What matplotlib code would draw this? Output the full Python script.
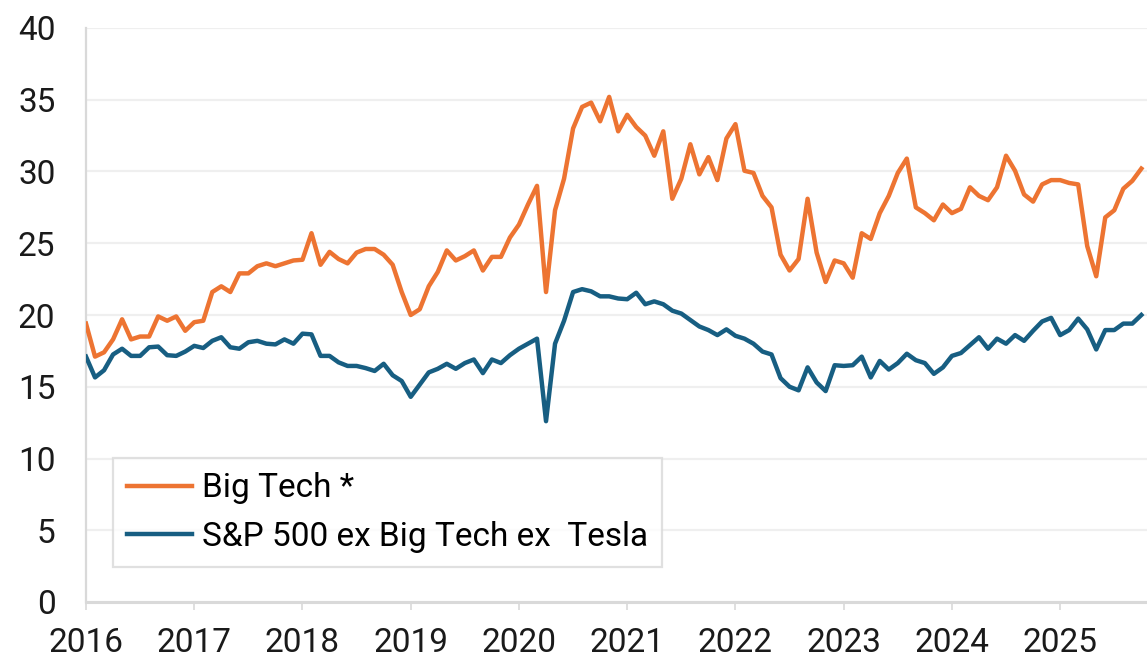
import numpy as np
import matplotlib
matplotlib.use("Agg")
import matplotlib.pyplot as plt

# ---- data (monthly, Jan 2016 .. Oct 2025) ----
year_labels = ["2016", "2017", "2018", "2019", "2020", "2021", "2022", "2023", "2024", "2025"]
series_names = ["Big Tech *", "S&P 500 ex Big Tech ex  Tesla"]

big_tech = [
    19.4, 17.1, 17.4, 18.3, 19.7, 18.3, 18.5, 18.5, 19.9, 19.6, 19.9, 18.9,
    19.5, 19.6, 21.6, 22.0, 21.6, 22.9, 22.9, 23.4, 23.6, 23.4, 23.6, 23.8,
    23.85, 25.7, 23.5, 24.4, 23.9, 23.6, 24.35, 24.6, 24.6, 24.2, 23.5, 21.6,
    20.0, 20.4, 22.0, 23.0, 24.5, 23.8, 24.1, 24.5, 23.1, 24.05, 24.05, 25.4,
    26.3, 27.7, 29.0, 21.6, 27.3, 29.5, 33.0, 34.5, 34.8, 33.5, 35.2, 32.8,
    33.95, 33.1, 32.5, 31.1, 32.8, 28.1, 29.5, 31.9, 29.8, 31.0, 29.4, 32.3,
    33.3, 30.05, 29.9, 28.3, 27.5, 24.2, 23.1, 23.9, 28.1, 24.35, 22.3, 23.8,
    23.6, 22.6, 25.7, 25.3, 27.1, 28.3, 29.9, 30.9, 27.5, 27.1, 26.6, 27.7,
    27.1, 27.4, 28.9, 28.3, 28.0, 28.9, 31.1, 30.05, 28.4, 27.9, 29.1, 29.4,
    29.4, 29.2, 29.1, 24.8, 22.7, 26.8, 27.3, 28.8, 29.35, 30.2,
]
sp500_ex = [
    17.1, 15.65, 16.15, 17.25, 17.65, 17.15, 17.15, 17.75, 17.8, 17.2, 17.15, 17.45,
    17.85, 17.7, 18.2, 18.45, 17.75, 17.65, 18.1, 18.2, 18.0, 17.95, 18.3, 18.0,
    18.7, 18.65, 17.15, 17.15, 16.7, 16.45, 16.45, 16.3, 16.1, 16.6, 15.8, 15.4,
    14.3, 15.15, 16.0, 16.25, 16.6, 16.25, 16.65, 16.9, 15.95, 16.9, 16.65, 17.2,
    17.65, 18.0, 18.35, 12.6, 18.0, 19.6, 21.6, 21.8, 21.65, 21.3, 21.3, 21.15,
    21.1, 21.55, 20.75, 20.95, 20.75, 20.3, 20.1, 19.65, 19.2, 18.95, 18.6, 19.0,
    18.55, 18.35, 18.0, 17.45, 17.25, 15.6, 15.0, 14.75, 16.35, 15.3, 14.7, 16.5,
    16.45, 16.5, 17.1, 15.65, 16.8, 16.2, 16.65, 17.3, 16.85, 16.65, 15.9, 16.35,
    17.15, 17.35, 17.9, 18.45, 17.65, 18.35, 18.0, 18.6, 18.2, 18.9, 19.55, 19.8,
    18.6, 18.95, 19.75, 19.0, 17.6, 18.95, 18.95, 19.4, 19.4, 20.0,
]

ORANGE = "#ED7432"
BLUE = "#175E82"
GRID = "#EFEFEF"
SPINE = "#D9D9D9"
FS = 24

plt.rcParams["font.family"] = ["Roboto", "DejaVu Sans"]

W, H = 1147, 658
fig = plt.figure(figsize=(W / 100, H / 100), dpi=100)
left_px, right_px, top_px, bot_px = 86, 1147, 28, 602
ax = fig.add_axes([left_px / W, (H - bot_px) / H, (right_px - left_px) / W, (bot_px - top_px) / H])

months = np.arange(len(big_tech))
ax.plot(months, big_tech, color=ORANGE, lw=3.2, label=series_names[0], solid_joinstyle="round", zorder=3)
ax.plot(months, sp500_ex, color=BLUE, lw=3.2, label=series_names[1], solid_joinstyle="round", zorder=3)

px_per_month = 9.02
ax.set_xlim(0, (right_px - left_px) / px_per_month)
ax.set_ylim(0, 40)
ax.set_yticks(np.arange(0, 41, 5))
ax.set_xticks(np.arange(len(year_labels)) * 12)
ax.set_xticklabels(year_labels)

ax.grid(axis="y", color=GRID, lw=1.6, zorder=0)
ax.set_axisbelow(True)
for s in ["top", "right"]:
    ax.spines[s].set_visible(False)
ax.spines["left"].set_color(SPINE)
ax.spines["left"].set_linewidth(1.6)
ax.spines["bottom"].set_color(SPINE)
ax.spines["bottom"].set_linewidth(2.2)

ax.tick_params(axis="y", length=0, pad=22, labelsize=FS, labelcolor="#1a1a1a")
ax.tick_params(axis="x", length=6, width=1.2, color=SPINE, direction="out", pad=12,
               labelsize=FS, labelcolor="#1a1a1a")

leg = ax.legend(loc="lower left", bbox_to_anchor=(0.0254, 0.061), borderaxespad=0,
                fontsize=FS, frameon=True, fancybox=False, edgecolor=SPINE,
                handlelength=1.95, handletextpad=0.3, labelspacing=0.5, borderpad=0.42)
leg.get_frame().set_linewidth(1.6)

fig.savefig("out.png", dpi=100)
